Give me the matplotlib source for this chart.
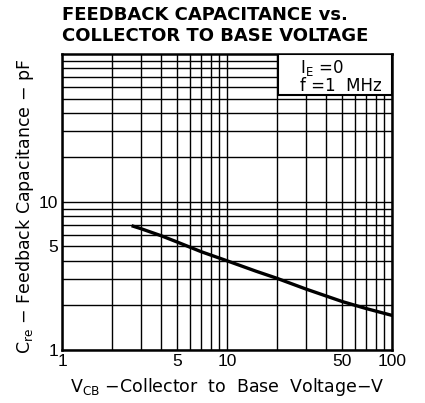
import matplotlib

matplotlib.use("Agg")
import matplotlib.pyplot as plt
from matplotlib.patches import Rectangle
from matplotlib.ticker import FixedLocator, NullFormatter, LogLocator

plt.rcParams["font.family"] = ["DejaVu Sans"]

# curve
vcb = [2.7, 3, 4, 5, 7, 10, 15, 20, 30, 50, 70, 100]
cre = [6.85, 6.6, 5.9, 5.35, 4.6, 4.0, 3.4, 3.05, 2.58, 2.12, 1.9, 1.71]

x_ticks = [1, 5, 10, 50, 100]
x_tick_labels = ["1", "5", "10", "50", "100"]
y_ticks = [1, 5, 10]
y_tick_labels = ["1", "5", "10"]

fig = plt.figure(figsize=(4.25, 4.03), dpi=100)
ax = fig.add_axes([0.146, 0.132, 0.776, 0.734])
ax.set_xscale("log"); ax.set_yscale("log")
ax.set_xlim(1, 100); ax.set_ylim(1, 100)

ax.xaxis.set_minor_locator(LogLocator(base=10, subs=range(2, 10)))
ax.yaxis.set_minor_locator(LogLocator(base=10, subs=range(2, 10)))
ax.xaxis.set_minor_formatter(NullFormatter()); ax.yaxis.set_minor_formatter(NullFormatter())
ax.xaxis.set_major_locator(FixedLocator(x_ticks)); ax.set_xticklabels(x_tick_labels)
ax.yaxis.set_major_locator(FixedLocator(y_ticks)); ax.set_yticklabels(y_tick_labels)
ax.grid(True, which="both", color="black", lw=1.0)
ax.tick_params(which="both", length=0, labelsize=12.5, pad=3)
for lab in ax.get_xticklabels() + ax.get_yticklabels():
    lab.set_family("Liberation Sans")
for s in ax.spines.values():
    s.set_linewidth(1.8)

ax.plot(vcb, cre, color="black", lw=2.4, zorder=5)

# condition box in the upper right corner, covering the grid
ax.add_patch(Rectangle((0.655, 0.861), 0.345, 0.139, transform=ax.transAxes,
                       fc="white", ec="black", lw=1.5, zorder=6))
ax.text(0.72, 0.953, "I$_\\mathregular{E}$ =0", transform=ax.transAxes,
        ha="left", va="center", fontsize=12, zorder=7)
ax.text(0.72, 0.893, "f =1  MHz", transform=ax.transAxes,
        ha="left", va="center", fontsize=12, zorder=7)

ax.set_xlabel("V$_\\mathregular{CB}$ $-$Collector  to  Base  Voltage$-$V", fontsize=12.5, labelpad=5)
ax.set_ylabel("C$_\\mathregular{re}$ $-$ Feedback Capacitance $-$ pF", fontsize=12.5)
ax.yaxis.set_label_coords(-0.078, 0.485)
fig.text(0.146, 0.985, "FEEDBACK CAPACITANCE vs.\nCOLLECTOR TO BASE VOLTAGE", ha="left", va="top",
         fontsize=13, fontweight="bold", linespacing=1.22)

fig.savefig("out.png", dpi=100)
